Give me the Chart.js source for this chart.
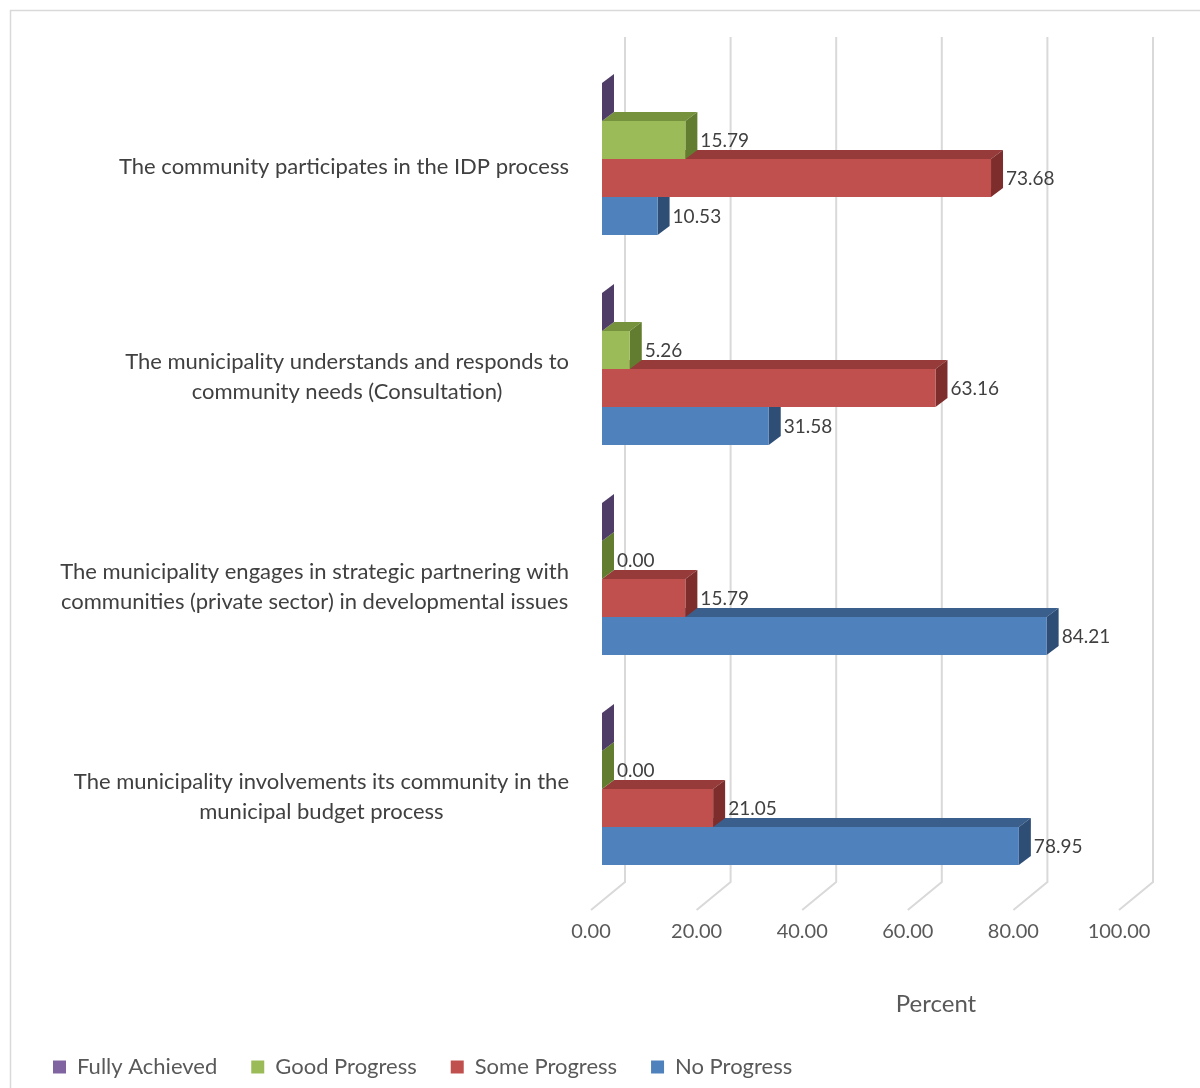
<!DOCTYPE html>
<html lang="en">
<head>
    <meta charset="utf-8" />
    <title>Community participation</title>
    <style>
        body { margin: 0; background: #fff; }
        #wrap { width: 1200px; height: 1088px; position: relative; }
    </style>
</head>
<body>

    <div id="wrap"><canvas id="Chart1"></canvas></div>

    <script src="https://cdn.jsdelivr.net/npm/chart.js"></script>

    <script>
        // categories, top to bottom (each entry is the lines of the label)
        var categories = [
            ['The community participates in the IDP process'],
            ['The municipality understands and responds to', 'community needs (Consultation)'],
            ['The municipality engages in strategic partnering with', 'communities (private sector) in developmental issues'],
            ['The municipality involvements its community in the', 'municipal budget process']
        ];
        var seriesNames = ['Fully Achieved', 'Good Progress', 'Some Progress', 'No Progress'];
        var fullyAchieved = [0, 0, 0, 0];
        var goodProgress = [15.79, 5.26, 0.00, 0.00];
        var someProgress = [73.68, 63.16, 15.79, 21.05];
        var noProgress = [10.53, 31.58, 84.21, 78.95];
        var xTicks = [0, 20, 40, 60, 80, 100];
        var axisTitle = 'Percent';

        var FONT = 'Lato';
        var DX = 12, DY = 9; // bar depth

        // front, top, side colours per series
        var colors = [
            ['#8064A2', '#5F4A7A', '#4F3D68'],
            ['#9BBB59', '#77923D', '#637D30'],
            ['#C0504D', '#963B39', '#7D2E2C'],
            ['#4F81BD', '#3A5F8C', '#2F4E76']
        ];
        var showLabels = [false, true, true, true];

        var threeD = {
            id: 'threeD',
            beforeDraw(chart) {
                const ctx = chart.ctx;
                ctx.save();
                ctx.strokeStyle = '#d9d9d9';
                ctx.lineWidth = 1.5;
                ctx.strokeRect(10.5, 10.5, chart.width + 50, chart.height + 50);
                ctx.restore();
            },
            beforeDatasetsDraw(chart) {
                const ctx = chart.ctx, area = chart.chartArea, xs = chart.scales.x;
                ctx.save();
                // back wall grid + floor
                ctx.strokeStyle = '#d9d9d9';
                ctx.lineWidth = 2;
                xTicks.forEach(v => {
                    const x = xs.getPixelForValue(v);
                    ctx.beginPath();
                    ctx.moveTo(x + 23, area.top - 17);
                    ctx.lineTo(x + 23, area.bottom - 12);
                    ctx.lineTo(x - 11, area.bottom + 16);
                    ctx.stroke();
                });
                // top and side faces, bottom bar first
                for (let j = 0; j < categories.length; j++) {
                    for (let i = chart.data.datasets.length - 1; i >= 0; i--) {
                        const el = chart.getDatasetMeta(i).data[j];
                        const p = el.getProps(['x', 'y', 'base', 'height'], true);
                        const top = p.y - p.height / 2, bottom = p.y + p.height / 2;
                        ctx.fillStyle = colors[i][1];
                        ctx.beginPath();
                        ctx.moveTo(p.base, top);
                        ctx.lineTo(p.base + DX, top - DY);
                        ctx.lineTo(p.x + DX, top - DY);
                        ctx.lineTo(p.x, top);
                        ctx.closePath();
                        ctx.fill();
                        ctx.fillStyle = colors[i][2];
                        ctx.beginPath();
                        ctx.moveTo(p.x, top);
                        ctx.lineTo(p.x + DX, top - DY);
                        ctx.lineTo(p.x + DX, bottom - DY);
                        ctx.lineTo(p.x, bottom);
                        ctx.closePath();
                        ctx.fill();
                    }
                }
                ctx.restore();
            },
            afterDatasetsDraw(chart) {
                const ctx = chart.ctx, area = chart.chartArea, ys = chart.scales.y;
                ctx.save();
                // value labels
                ctx.font = '19px ' + FONT;
                ctx.fillStyle = '#404040';
                ctx.textAlign = 'left';
                ctx.textBaseline = 'middle';
                chart.data.datasets.forEach((ds, i) => {
                    if (!showLabels[i]) return;
                    chart.getDatasetMeta(i).data.forEach((el, j) => {
                        const p = el.getProps(['x', 'y'], true);
                        ctx.fillText(ds.data[j].toFixed(2), p.x + DX + 3, p.y + 1);
                    });
                });
                // category labels: block right aligned, lines centred
                ctx.font = '22px ' + FONT;
                ctx.textAlign = 'center';
                const right = area.left - 33;
                categories.forEach((lines, j) => {
                    const w = Math.max(...lines.map(t => ctx.measureText(t).width));
                    const cx = right - w / 2;
                    const cy = ys.getPixelForTick(j) + 8;
                    lines.forEach((t, k) => {
                        ctx.fillText(t, cx, cy + (k - (lines.length - 1) / 2) * 30);
                    });
                });
                // axis title
                ctx.font = '24px ' + FONT;
                ctx.fillStyle = '#595959';
                ctx.fillText(axisTitle, area.right - 194, area.bottom + 110);
                ctx.restore();
            }
        };

        var seriesData = [fullyAchieved, goodProgress, someProgress, noProgress];

        var Chart1 = new Chart(document.getElementById('Chart1').getContext('2d'), {
            type: 'bar',
            data: {
                labels: categories,
                datasets: seriesNames.map((name, i) => ({
                    label: name,
                    data: seriesData[i],
                    backgroundColor: colors[i][0],
                    borderWidth: 0
                }))
            },
            options: {
                indexAxis: 'y',
                responsive: true,
                maintainAspectRatio: false,
                animation: false,
                layout: { padding: { left: 19, right: 70, top: 54, bottom: 0 } },
                datasets: { bar: { barPercentage: 1, categoryPercentage: 0.724 } },
                plugins: {
                    tooltip: { enabled: false },
                    legend: {
                        position: 'bottom',
                        align: 'start',
                        labels: {
                            boxWidth: 13,
                            boxHeight: 13,
                            padding: 34,
                            color: '#595959',
                            font: { family: FONT, size: 22 }
                        }
                    }
                },
                scales: {
                    x: {
                        min: 0,
                        max: 100,
                        afterBuildTicks: s => { s.ticks = xTicks.map(v => ({ value: v })); },
                        grid: { display: false, drawTicks: false },
                        border: { display: false },
                        ticks: {
                            callback: v => v.toFixed(2),
                            labelOffset: -11,
                            padding: 26,
                            autoSkip: false,
                            maxRotation: 0,
                            color: '#595959',
                            font: { family: FONT, size: 20 }
                        },
                        afterFit: s => { s.height = 128; }
                    },
                    y: {
                        grid: { display: false, drawTicks: false },
                        border: { display: false },
                        ticks: { display: false },
                        afterFit: s => { s.width = 583; }
                    }
                }
            },
            plugins: [threeD]
        });
    </script>

</body>
</html>
